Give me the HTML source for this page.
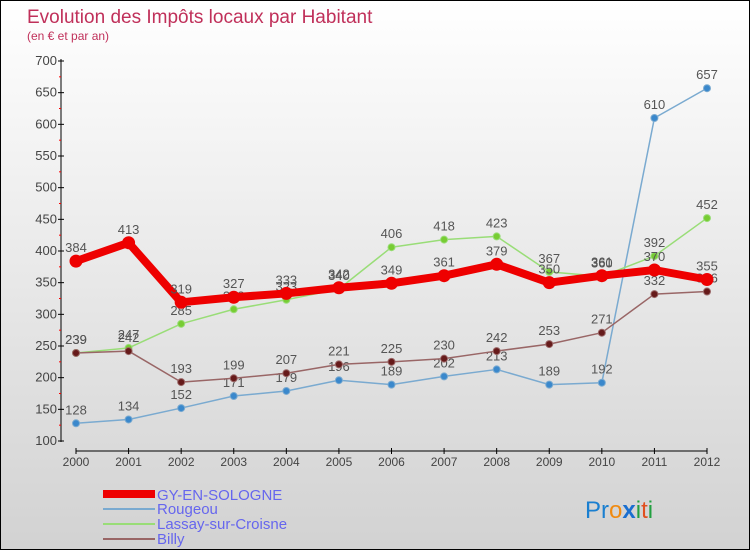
<!DOCTYPE html>
<html><head><meta charset="utf-8"><style>
body{margin:0}
#c{width:750px;height:550px;position:relative;overflow:hidden;box-sizing:border-box;border:1px solid #000;background:linear-gradient(#fff,#d2d2d2);font-family:"Liberation Sans",sans-serif}
</style></head><body>
<div id="c">
<svg id="s" width="750" height="550" style="position:absolute;left:0;top:0">
<text x="26" y="22" font-size="19" fill="#c0305a">Evolution des Impôts locaux par Habitant</text>
<text x="26" y="39" font-size="12" fill="#c0305a">(en € et par an)</text>
<g id="g"></g>
<g>
<rect x="102" y="489" width="52" height="8" fill="#ee0000"/>
<text x="156" y="499" font-size="15" fill="#6666ee">GY-EN-SOLOGNE</text>
<rect x="102" y="507" width="52" height="2" fill="#7aaad0"/>
<text x="156" y="513" font-size="15" fill="#6666ee">Rougeou</text>
<rect x="102" y="522" width="52" height="2" fill="#99dd77"/>
<text x="156" y="528" font-size="15" fill="#6666ee">Lassay-sur-Croisne</text>
<rect x="102" y="537" width="52" height="2" fill="#996666"/>
<text x="156" y="543" font-size="15" fill="#6666ee">Billy</text>
</g>
<text x="584" y="517" font-size="24"><tspan fill="#1a7fd0">Pr</tspan><tspan fill="#f08a10">o</tspan><tspan fill="#1a6fd0" font-weight="bold">x</tspan><tspan fill="#22a040">i</tspan><tspan fill="#e05020">t</tspan><tspan fill="#22a040">i</tspan></text>
</svg>
<script>
const years=["2000","2001","2002","2003","2004","2005","2006","2007","2008","2009","2010","2011","2012"];
const gy=[384,413,319,327,333,342,349,361,379,350,361,370,355];
const rougeou=[128,134,152,171,179,196,189,202,213,189,192,610,657];
const lassay=[239,247,285,308,323,340,406,418,423,367,360,392,452];
const billy=[239,242,193,199,207,221,225,230,242,253,271,332,336];
const yTicks=[100,150,200,250,300,350,400,450,500,550,600,650,700];
const NS="http://www.w3.org/2000/svg",g=document.getElementById('g');
const X=i=>75+i*(706-75)/(years.length-1);
const Y=v=>440-(v-100)*(380/600);
function mk(t,a,p){const e=document.createElementNS(NS,t);for(const k in a)e.setAttribute(k,a[k]);(p||g).appendChild(e);return e;}
let e=mk('line',{x1:60,y1:58,x2:60,y2:441,stroke:'#000'});


e=mk('line',{x1:75,y1:450,x2:706,y2:450,stroke:'#000'});


yTicks.forEach((v,i)=>{
 e=mk('line',{x1:57,x2:63,y1:Y(v),y2:Y(v),stroke:'#000'});
 
 
 if(i<yTicks.length-1){const m=mk('line',{x1:58,x2:60,y1:Y(v+25),y2:Y(v+25),stroke:'#f00'});}
 e=mk('text',{x:56,y:Y(v)+4,'font-size':13,'text-anchor':'end',fill:'#444'});e.textContent=v;
 
 
});
years.forEach((y,i)=>{
 e=mk('line',{x1:X(i),x2:X(i),y1:447,y2:453,stroke:'#000'});
 
 
 e=mk('text',{x:X(i),y:465,'font-size':12,'text-anchor':'middle',fill:'#444'});e.textContent=y;
 
 
});
function series(d,name,col,w,r,dot,lab){
 e=mk('polyline',{points:d.map((v,i)=>X(i)+','+Y(v)).join(' '),fill:'none',stroke:col,'stroke-width':w,'stroke-linejoin':'round'});
 
 
 d.forEach((v,i)=>{
  e=mk('circle',{cx:X(i),cy:Y(v),r:r,fill:dot,stroke:col,'stroke-width':1});
  
  
  e=mk('text',{x:X(i),y:Y(v)-9,'font-size':13,'text-anchor':'middle',fill:lab});e.textContent=v;
  
  
 });
}
series(rougeou,'rougeou','#7aaad0',1.5,3.5,'#3a88cc','#555');
series(lassay,'lassay','#99dd77',1.5,3.5,'#77cc33','#555');
series(billy,'billy','#996666',1.5,3.5,'#661a1a','#555');
series(gy,'gy','#ee0000',8,6,'#ee0000','#555');
</script>
</div>
</body></html>
